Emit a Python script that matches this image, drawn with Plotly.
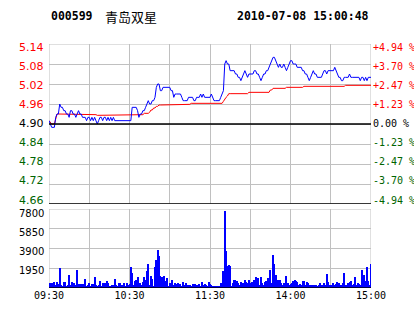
import plotly.graph_objects as go

# ---------------- data ----------------
minutes = list(range(241))
x_tick_pos = [0, 30, 60, 90, 120, 150, 180, 210, 240]
x_tick_text = ["09:30", "", "10:30", "", "11:30", "", "14:00", "", "15:00"]

price_ticks = [4.66, 4.72, 4.78, 4.84, 4.90, 4.96, 5.02, 5.08, 5.14]
price_labels = ["4.66", "4.72", "4.78", "4.84", "4.90", "4.96", "5.02", "5.08", "5.14"]
pct_labels = ["-4.94 %", "-3.70 %", "-2.47 %", "-1.23 %", "0.00 %", "+1.23 %", "+2.47 %", "+3.70 %", "+4.94 %"]
vol_ticks = [1950, 3900, 5850, 7800]
vol_labels = ["1950", "3900", "5850", "7800"]
prev_close = 4.90

price = [
    4.91, 4.90, 4.89, 4.89, 4.89, 4.92, 4.93, 4.93, 4.96, 4.95,
    4.95, 4.94, 4.94, 4.93, 4.93, 4.92, 4.94, 4.94, 4.93, 4.93,
    4.92, 4.93, 4.94, 4.93, 4.93, 4.92, 4.92, 4.92, 4.91, 4.92,
    4.92, 4.91, 4.92, 4.91, 4.92, 4.91, 4.90, 4.91, 4.92, 4.92,
    4.91, 4.92, 4.92, 4.91, 4.92, 4.91, 4.92, 4.91, 4.92, 4.91,
    4.91, 4.91, 4.91, 4.91, 4.91, 4.91, 4.91, 4.91, 4.91, 4.91,
    4.91, 4.91, 4.95, 4.95, 4.95, 4.95, 4.94, 4.92, 4.93, 4.93,
    4.94, 4.94, 4.95, 4.96, 4.97, 4.96, 4.96, 4.97, 4.97, 4.98,
    5.01, 5.02, 5.02, 5.00, 5.00, 5.01, 5.01, 5.01, 5.01, 5.01,
    5.01, 5.00, 5.00, 4.98, 4.99, 4.99, 4.99, 4.99, 4.99, 4.98,
    4.97, 4.97, 4.97, 4.97, 4.98, 4.98, 4.98, 4.98, 4.97, 4.97,
    4.98, 4.98, 4.98, 4.99, 4.98, 4.99, 4.98, 4.98, 4.98, 4.98,
    4.98, 4.99, 4.98, 4.97, 4.97, 4.97, 4.97, 4.97, 4.98, 4.99,
    5.00, 5.08, 5.09, 5.08, 5.08, 5.06, 5.06, 5.06, 5.06, 5.05,
    5.05, 5.04, 5.04, 5.03, 5.04, 5.05, 5.06, 5.05, 5.04, 5.05,
    5.05, 5.05, 5.05, 5.06, 5.06, 5.05, 5.05, 5.04, 5.03, 5.04,
    5.05, 5.05, 5.06, 5.06, 5.07, 5.08, 5.09, 5.10, 5.10, 5.09,
    5.08, 5.07, 5.08, 5.07, 5.07, 5.08, 5.07, 5.06, 5.07, 5.08,
    5.09, 5.09, 5.08, 5.08, 5.08, 5.07, 5.07, 5.07, 5.07, 5.06,
    5.06, 5.05, 5.05, 5.04, 5.03, 5.04, 5.05, 5.06, 5.05, 5.05,
    5.04, 5.04, 5.04, 5.04, 5.05, 5.06, 5.06, 5.05, 5.06, 5.06,
    5.06, 5.06, 5.06, 5.07, 5.06, 5.05, 5.04, 5.04, 5.03, 5.03,
    5.04, 5.04, 5.04, 5.04, 5.05, 5.04, 5.04, 5.04, 5.04, 5.04,
    5.04, 5.04, 5.03, 5.04, 5.04, 5.03, 5.04, 5.03, 5.04, 5.04,
    5.04,
]

avg_price = [
    4.910, 4.905, 4.900, 4.900, 4.900, 4.915, 4.930, 4.930, 4.930, 4.930,
    4.930, 4.930, 4.930, 4.930, 4.930, 4.930, 4.930, 4.930, 4.930, 4.930,
    4.929, 4.929, 4.929, 4.929, 4.929, 4.929, 4.929, 4.929, 4.929, 4.929,
    4.928, 4.928, 4.928, 4.928, 4.928, 4.928, 4.926, 4.926, 4.926, 4.926,
    4.926, 4.926, 4.926, 4.926, 4.926, 4.926, 4.926, 4.926, 4.926, 4.926,
    4.926, 4.926, 4.926, 4.926, 4.926, 4.926, 4.926, 4.926, 4.926, 4.926,
    4.926, 4.926, 4.926, 4.926, 4.926, 4.926, 4.926, 4.928, 4.928, 4.928,
    4.928, 4.932, 4.932, 4.932, 4.932, 4.935, 4.942, 4.942, 4.948, 4.948,
    4.953, 4.953, 4.957, 4.957, 4.957, 4.957, 4.957, 4.957, 4.959, 4.959,
    4.959, 4.959, 4.959, 4.959, 4.959, 4.959, 4.959, 4.959, 4.959, 4.959,
    4.959, 4.959, 4.959, 4.959, 4.959, 4.959, 4.962, 4.962, 4.962, 4.962,
    4.962, 4.962, 4.962, 4.962, 4.962, 4.962, 4.962, 4.962, 4.962, 4.962,
    4.962, 4.962, 4.962, 4.962, 4.962, 4.962, 4.962, 4.962, 4.962, 4.962,
    4.968, 4.975, 4.980, 4.984, 4.991, 4.991, 4.991, 4.991, 4.991, 4.991,
    4.991, 4.991, 4.991, 4.991, 4.991, 4.991, 4.991, 4.991, 4.991, 4.995,
    4.995, 4.995, 4.995, 4.995, 4.995, 4.995, 4.995, 4.995, 4.995, 4.995,
    4.995, 4.995, 4.995, 4.995, 4.995, 5.002, 5.002, 5.007, 5.007, 5.007,
    5.007, 5.007, 5.007, 5.007, 5.007, 5.007, 5.007, 5.010, 5.010, 5.010,
    5.010, 5.010, 5.010, 5.010, 5.010, 5.010, 5.010, 5.010, 5.010, 5.010,
    5.013, 5.013, 5.013, 5.013, 5.013, 5.013, 5.013, 5.013, 5.013, 5.013,
    5.013, 5.013, 5.013, 5.013, 5.013, 5.013, 5.013, 5.013, 5.013, 5.013,
    5.013, 5.013, 5.013, 5.013, 5.013, 5.013, 5.013, 5.013, 5.013, 5.013,
    5.013, 5.016, 5.016, 5.016, 5.016, 5.016, 5.016, 5.016, 5.016, 5.016,
    5.016, 5.016, 5.016, 5.016, 5.016, 5.016, 5.016, 5.016, 5.016, 5.016,
    5.016,
]

volume = [
    230, 500, 500, 300, 560, 300, 600, 350, 1980, 300,
    200, 600, 560, 200, 300, 1320, 300, 560, 260, 500,
    260, 1815, 350, 400, 400, 350, 300, 924, 200, 330,
    450, 200, 350, 400, 1120, 300, 200, 330, 730, 200,
    500, 300, 500, 650, 530, 200, 200, 330, 300, 924,
    330, 200, 500, 500, 300, 330, 500, 200, 530, 250,
    400, 2110, 1520, 330, 650, 830, 1050, 200, 500, 330,
    600, 1050, 830, 1650, 2400, 330, 1160, 860, 200, 2110,
    2800, 3800, 3135, 1160, 1050, 500, 1160, 730, 990, 200,
    500, 300, 825, 330, 530, 400, 530, 400, 400, 200,
    600, 250, 530, 250, 330, 250, 200, 400, 250, 400,
    250, 200, 400, 200, 600, 330, 400, 300, 170, 600,
    400, 260, 170, 230, 230, 230, 230, 230, 500, 500,
    1650, 7650, 3700, 2210, 2310, 2210, 170, 500, 830, 830,
    660, 500, 330, 600, 500, 500, 830, 600, 500, 830,
    500, 600, 330, 830, 1060, 500, 990, 330, 1060, 500,
    330, 600, 730, 990, 330, 1815, 500, 3300, 2380, 1320,
    660, 830, 830, 500, 260, 500, 330, 1155, 500, 330,
    400, 500, 730, 830, 660, 600, 330, 400, 260, 730,
    660, 330, 600, 500, 330, 330, 170, 330, 260, 330,
    170, 330, 500, 330, 260, 500, 330, 1390, 600, 330,
    260, 330, 500, 330, 400, 600, 500, 330, 260, 500,
    1485, 330, 260, 500, 600, 660, 330, 400, 1050, 330,
    500, 400, 260, 1815, 330, 1320, 730, 2110, 730, 330,
    2380,
]

# ---------------- styling ----------------
RED = "#ff0000"
GREEN = "#006400"
BLUE = "#0000ff"
GRID = "#c0c0c0"

W, H = 414, 314
ML, MR, MT, MB = 49, 43, 44, 26
PW = W - ML - MR
PH = H - MT - MB
price_dom = [(288 - 204) / PH, 1.0]
vol_dom = [0.0, (288 - 209) / PH]


def py(ypx):
    return (MT + PH - ypx) / PH


def px(xpx):
    return (xpx - ML) / PW


def color_for(val):
    if val > prev_close + 1e-9:
        return RED
    if val < prev_close - 1e-9:
        return GREEN
    return "#000000"


fig = go.Figure()
fig.add_trace(go.Scatter(x=minutes, y=avg_price, mode="lines", line=dict(color=RED, width=1),
                         xaxis="x", yaxis="y", hoverinfo="skip"))
fig.add_trace(go.Scatter(x=minutes, y=price, mode="lines", line=dict(color=BLUE, width=1),
                         xaxis="x", yaxis="y", hoverinfo="skip"))
fig.add_trace(go.Bar(x=minutes, y=volume, marker=dict(color=BLUE, line=dict(width=0)), width=0.75,
                     xaxis="x2", yaxis="y2", hoverinfo="skip"))

xr = [0, 240]
fig.update_layout(
    width=W, height=H,
    margin=dict(l=ML, r=MR, t=MT, b=MB, pad=0, autoexpand=False),
    paper_bgcolor="white", plot_bgcolor="white",
    showlegend=False, bargap=0,
    xaxis=dict(domain=[0, 1], anchor="y", range=xr, tickvals=x_tick_pos, showticklabels=False,
               showgrid=True, gridcolor=GRID, gridwidth=1, zeroline=False, showline=False, ticks="",
               automargin=False),
    yaxis=dict(domain=price_dom, anchor="x", range=[price_ticks[0], price_ticks[-1]],
               tickvals=price_ticks, showticklabels=False, showgrid=True, gridcolor=GRID, gridwidth=1,
               zeroline=False, showline=False, ticks="", automargin=False),
    xaxis2=dict(domain=[0, 1], anchor="y2", range=xr, tickvals=x_tick_pos, ticktext=x_tick_text,
                showgrid=True, gridcolor=GRID, gridwidth=1, zeroline=False, showline=False, ticks="",
                tickfont=dict(family="DejaVu Sans Mono", size=10, color="black"), tickangle=0,
                automargin=False),
    yaxis2=dict(domain=vol_dom, anchor="x2", range=[0, vol_ticks[-1]], tickvals=vol_ticks,
                showticklabels=False, showgrid=True, gridcolor=GRID, gridwidth=1, zeroline=False,
                showline=False, ticks="", automargin=False),
)

shapes = []
for xref, yref, ylo, yhi in (("x", "y", price_ticks[0], price_ticks[-1]), ("x2", "y2", 0, vol_ticks[-1])):
    shapes.append(dict(type="rect", xref=xref, yref=yref, x0=xr[0], x1=xr[1], y0=ylo, y1=yhi,
                       line=dict(color=GRID, width=1), layer="below"))
shapes.append(dict(type="line", xref="x", yref="y", x0=xr[0], x1=xr[1], y0=prev_close, y1=prev_close,
                   line=dict(color="black", width=1.3)))
shapes.append(dict(type="line", xref="x", yref="y", x0=xr[0], x1=xr[1], y0=price_ticks[0], y1=price_ticks[0],
                   line=dict(color="black", width=1.3)))
shapes.append(dict(type="line", xref="x2", yref="y2", x0=xr[0], x1=xr[1], y0=0, y1=0,
                   line=dict(color="black", width=1.3)))
fig.update_layout(shapes=shapes)

# price / percent labels: spread evenly, inset at the panel edges (as in the reference)
n = len(price_ticks)
top_px, bot_px = 47.7, 200.0
for i, (val, lt, rt) in enumerate(zip(price_ticks, price_labels, pct_labels)):
    ypx = bot_px - (bot_px - top_px) * i / (n - 1)
    c = color_for(val)
    fig.add_annotation(xref="paper", yref="paper", x=px(46), y=py(ypx), xanchor="right", yanchor="middle",
                       text=lt, showarrow=False, font=dict(family="DejaVu Sans", size=11, color=c))
    fig.add_annotation(xref="paper", yref="paper", x=px(371), y=py(ypx), xanchor="left", yanchor="middle",
                       text=rt, showarrow=False, font=dict(family="DejaVu Sans Mono", size=10, color=c))

# volume labels
vtop, vbot = 213.0, 270.0
nv = len(vol_ticks)
for i, lab in enumerate(vol_labels):
    ypx = vbot - (vbot - vtop) * i / (nv - 1)
    fig.add_annotation(xref="paper", yref="paper", x=px(46), y=py(ypx), xanchor="right", yanchor="middle",
                       text=lab, showarrow=False, font=dict(family="DejaVu Sans", size=10, color="black"))

ty = py(16)
fig.add_annotation(xref="paper", yref="paper", x=px(49), y=ty, xanchor="left", yanchor="middle",
                   text="<b>000599</b>", showarrow=False,
                   font=dict(family="DejaVu Sans Mono", size=11.5, color="black"))
fig.add_annotation(xref="paper", yref="paper", x=px(103), y=ty, xanchor="left",
                   yanchor="middle", text="青岛双星", showarrow=False,
                   font=dict(family="Noto Sans CJK SC", size=13, color="black"))
fig.add_annotation(xref="paper", yref="paper", x=px(371), y=ty, xanchor="right", yanchor="middle",
                   text="<b>2010-07-08 15:00:48</b>", showarrow=False,
                   font=dict(family="DejaVu Sans Mono", size=11.5, color="black"))

fig.write_html("out.html")
